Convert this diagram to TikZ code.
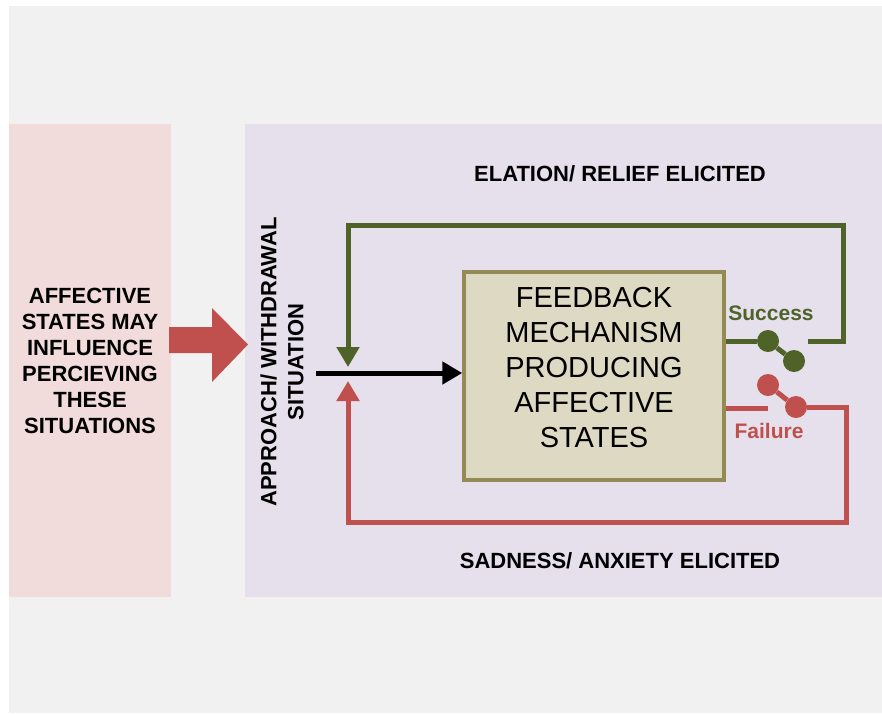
\documentclass[tikz,border=0pt]{standalone}
\usepackage{fontspec}
\setmainfont{Liberation Sans}
\usetikzlibrary{arrows.meta}

\definecolor{pagegray}{HTML}{F1F1F1}
\definecolor{pinkpanel}{HTML}{F2DCDB}
\definecolor{lilacpanel}{HTML}{E5E0EC}
\definecolor{boxfill}{HTML}{DDD9C3}
\definecolor{boxline}{HTML}{948A54}
\definecolor{okgreen}{HTML}{4F6228}
\definecolor{badred}{HTML}{C0504D}

\begin{document}
\begin{tikzpicture}[x=1pt, y=-1pt]

    \tikzset{panel/.style={draw=none, inner sep=0pt, outer sep=0pt},
             capstext/.style={font=\bfseries\fontsize{22}{26}\selectfont, align=center, inner sep=0pt},
             fbbox/.style={draw=boxline, line width=3.5pt, fill=boxfill, minimum width=260pt,
                           minimum height=208pt, font=\fontsize{29}{35}\selectfont},
             dot/.style={circle, inner sep=0pt, minimum size=22pt},
             loopline/.style={line width=5pt},
             tip/.style={-{Triangle[width=22pt, length=20pt]}}}

    \useasboundingbox (0,0) rectangle (882,713);
    \fill[white] (0,0) rectangle (882,713);
    \fill[pagegray] (9,6) rectangle (882,713);

    % panels
    \node[panel, fill=pinkpanel, minimum width=162pt, minimum height=473pt] (left) at (90,360.5) {};
    \node[panel, fill=lilacpanel, minimum width=637pt, minimum height=473pt] (right) at (563.5,360.5) {};

    \node[capstext] (influence) at (90,361) {AFFECTIVE\\STATES MAY\\INFLUENCE\\PERCIEVING\\THESE\\SITUATIONS};

    % block arrow between the panels
    \fill[badred] (169,327) -- (212,327) -- (212,308) -- (248,344.5) -- (212,382) -- (212,353) -- (169,353) -- cycle;

    \node[capstext, rotate=90, font=\bfseries\fontsize{22}{27}\selectfont] (situation) at (282,362) {APPROACH/ WITHDRAWAL\\SITUATION};

    \node[capstext] (elation) at (620,174) {ELATION/ RELIEF ELICITED};
    \node[capstext] (sadness) at (620,561) {SADNESS/ ANXIETY ELICITED};

    \node[fbbox] (fb) at (594,376) {\raisebox{6pt}[\height][\depth]{\begin{tabular}{@{}c@{}}FEEDBACK\\MECHANISM\\PRODUCING\\AFFECTIVE\\STATES\end{tabular}}};

    \node[capstext, text=okgreen, font=\bfseries\fontsize{21}{24}\selectfont] (success) at (771,313) {Success};
    \node[capstext, text=badred, font=\bfseries\fontsize{21}{24}\selectfont] (failure) at (769,431) {Failure};

    \coordinate (entry) at (316,373);
    \coordinate (gtip) at (348,367);
    \coordinate (rtip) at (348,381);
    \coordinate (gc) at (808,341);
    \coordinate (gtop) at (843,225);
    \coordinate (rlow) at (768,408);
    \coordinate (rbot) at (846,522);

    \node[dot, fill=okgreen] (gs1) at (768,341) {};
    \node[dot, fill=okgreen] (gs2) at (794,361) {};
    \node[dot, fill=badred] (rs1) at (768,385) {};
    \node[dot, fill=badred] (rs2) at (796,407) {};

    % success loop
    \begin{scope}[every path/.style={draw=okgreen, loopline}]
        \draw (fb.east |- gs1) -- (gs1);
        \draw (gs1) -- (gs2);
        \draw[tip] (gc) -| (gtop) -| (gtip);
    \end{scope}

    % failure loop
    \begin{scope}[every path/.style={draw=badred, loopline}]
        \draw (fb.east |- rlow) -- (rlow);
        \draw (rs1) -- (rs2);
        \draw[tip] (rs2) -| (rbot) -| (rtip);
    \end{scope}

    \draw[loopline, tip] (entry) -- (fb.west |- entry);

\end{tikzpicture}
\end{document}
